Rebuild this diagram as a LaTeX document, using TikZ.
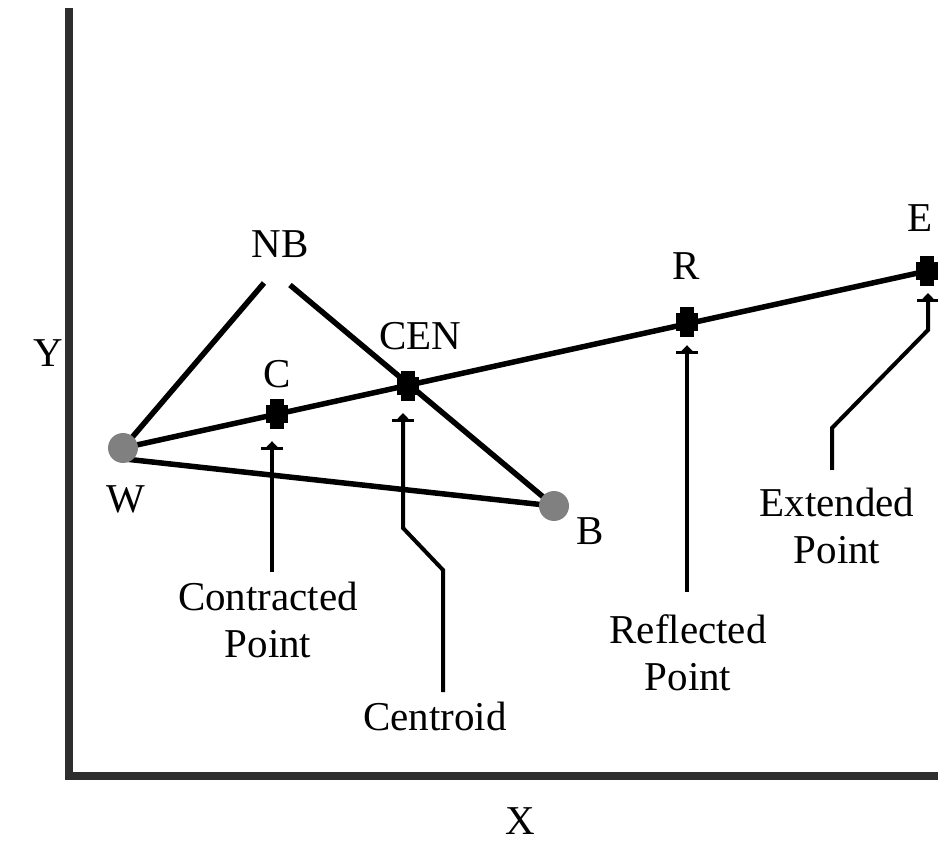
\documentclass[tikz,border=0pt]{standalone}
\usepackage{fontspec}
\setmainfont{Liberation Serif}
\usetikzlibrary{arrows.meta}
\begin{document}
\begin{tikzpicture}[x=1pt,y=-1pt,
  lbl/.style={font=\fontsize{41}{47}\selectfont, inner sep=0pt, anchor=base, align=center},
  axisline/.style={line width=7.5pt, draw=black!82, line join=miter},
  seg/.style={line width=5.5pt},
  ptr/.style={line width=4pt, -{Rectangle[width=22pt,length=3pt]Triangle[width=11pt,length=6pt]}},
  ptmark/.style={rectangle, fill=black, minimum width=14pt, minimum height=30pt, inner sep=0pt},
  endpt/.style={circle, fill=black!50, minimum size=30pt, inner sep=0pt}
]
\useasboundingbox (0,0) rectangle (938,842);
% axes
\draw[axisline] (69,8) -- (69,776) -- (938,776);
% point nodes
\node[ptmark] (C) at (277,414) {};
\node[ptmark] (CEN) at (408,386) {};
\node[ptmark] (R) at (687,322) {};
\node[ptmark] (E) at (927,271) {};
\coordinate (nb1) at (264,283);
\coordinate (nb2) at (290,285);
\coordinate (wb) at (125,459);
% lines
\draw[seg] (123,448) -- (E.center);
\draw[seg] (123,448) -- (nb1);
\draw[seg] (nb2) -- (554,506);
\draw[seg] (wb) -- (554,506);
\foreach \n in {C,CEN,R,E} \fill (\n) ++(-11,-9) rectangle ++(22,18);
\node[ptmark] at (C) {};
\node[ptmark] at (CEN) {};
\node[ptmark] at (R) {};
\node[ptmark] at (E) {};
\node[endpt] (W) at (123,448) {};
\node[endpt] (B) at (554,506) {};
% labels
\node[lbl] (lNB) at (280,258) {NB};
\node[lbl] (lC) at (277,388) {C};
\node[lbl] (lCEN) at (420,350) {CEN};
\node[lbl] (lR) at (686,280) {R};
\node[lbl] (lE) at (920,232) {E};
\node[lbl] (lW) at (126,512) {W};
\node[lbl] (lB) at (590,544) {B};
\node[lbl] (lY) at (48,367) {Y};
\node[lbl] (lX) at (520,834) {X};
\node[lbl] (tC) at (268,657) {Contracted\\Point};
\node[lbl] (tCEN) at (435,730) {Centroid};
\node[lbl] (tR) at (688,690) {Reflected\\Point};
\node[lbl] (tE) at (837,563) {Extended\\Point};
% pointers
\coordinate (aC) at (272,572);
\coordinate (aCEN) at (443,692);
\coordinate (aR) at (687,592);
\coordinate (aE) at (832,470);
\draw[ptr, shorten >=12pt] (aC) -- (aC |- C.south);
\draw[ptr, shorten >=12pt] (aCEN) -- (443,570) -- (403,528) -- (403,401);
\draw[ptr, shorten >=8pt] (aR) -- (R.south);
\draw[ptr, shorten >=7pt] (aE) -- (832,428) -- (928,330) -- (928,286);
\end{tikzpicture}
\end{document}
